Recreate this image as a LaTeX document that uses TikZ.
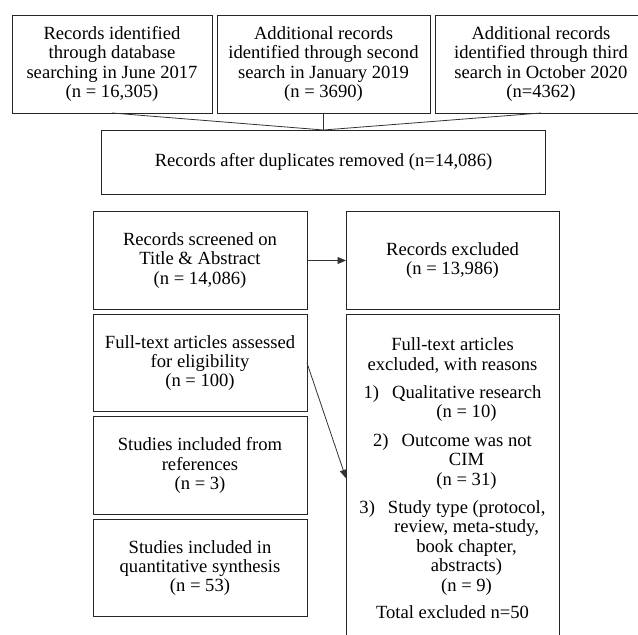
\documentclass[tikz,border=0pt]{standalone}
\usepackage{fontspec}
\setmainfont{Liberation Serif}
\usetikzlibrary{arrows.meta,positioning}

\begin{document}
\begin{tikzpicture}[
    x=1pt,y=-1pt,
    node distance=5pt,
    box/.style={draw=black!85,line width=1pt,outer sep=0pt,inner sep=2pt,align=center,minimum height=97.5pt,font=\fontsize{18.6}{19.4}\selectfont},
    link/.style={draw=black!80,line width=0.8pt},
    arr/.style={link,-{Triangle[length=8.5pt,width=7pt]}}
]
\useasboundingbox (0,0) rectangle (638,635);
\clip (0,0) rectangle (638,635);

% identification
\node[box,minimum width=200pt,minimum height=98pt] (dbA) at (112,64) {Records identified\\through database\\searching in June 2017\\(n = 16,305)};
\node[box,minimum width=213pt,minimum height=98pt,right=of dbA] (dbB) {Additional records\\identified through second\\search in January 2019\\(n = 3690)};
\node[box,minimum width=212pt,minimum height=98pt,right=of dbB] (dbC) {Additional records\\identified through third\\search in October 2020\\(n=4362)};
\node[box,minimum width=444pt,minimum height=64pt,below=17pt of dbB] (dedup) {Records after duplicates removed (n=14,086)};

% screening column
\node[box,minimum width=214pt] (screen) at (200,260.5) {Records screened on\\Title \& Abstract\\(n = 14,086)};
\node[box,minimum width=214pt,below=of screen] (full) {Full-text articles assessed\\for eligibility\\(n = 100)};
\node[box,minimum width=214pt,below=of full] (refs) {Studies included from\\references\\(n = 3)};
\node[box,minimum width=214pt,below=of refs] (synth) {Studies included in\\quantitative synthesis\\(n = 53)};

% exclusions
\node[box,minimum width=213pt,right=39pt of screen] (excl) {Records excluded\\(n = 13,986)};
\node[box,minimum width=213pt,minimum height=328pt,below=of excl] (fullex) {Full-text articles\\excluded, with reasons\\[9pt]
1)\hspace{13pt}Qualitative research\\\hspace*{28pt}(n = 10)\\[9pt]
2)\hspace{13pt}Outcome was not\\\hspace*{28pt}CIM\\\hspace*{28pt}(n = 31)\\[9pt]
3)\hspace{13pt}Study type (protocol,\\\hspace*{28pt}review, meta-study,\\\hspace*{28pt}book chapter,\\\hspace*{28pt}abstracts)\\\hspace*{28pt}(n = 9)\\[8pt]
Total excluded n=50};

\draw[link] (dbA.south) -- (dedup.north);
\draw[link] (dbB.south) -- (dedup.north);
\draw[link] (dbC.south) -- (dedup.north);
\draw[arr] (screen) -- (excl);
\draw[arr] (full.east) -- (fullex.west);
\end{tikzpicture}
\end{document}
